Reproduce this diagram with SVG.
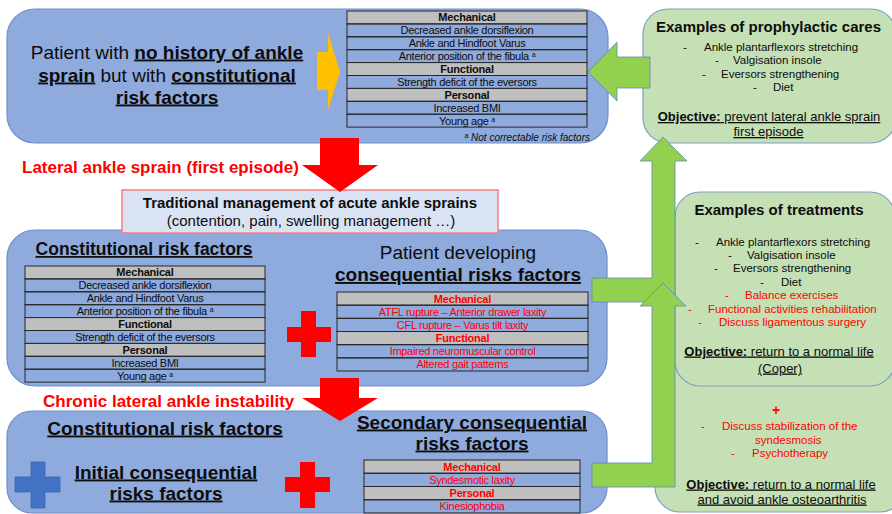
<svg xmlns="http://www.w3.org/2000/svg" width="892" height="514" viewBox="0 0 892 514">
<style>
text{font-family:"Liberation Sans",Arial,sans-serif;fill:#0d0d0d}
.box{fill:#8faadc;stroke:#6f8fcc;stroke-width:1.2}
.pan{fill:#c5e0b4;stroke:#7f9fc8;stroke-width:1.2}
.garrow{fill:#92d050;stroke:#5f88b8;stroke-width:0.8}
.rarrow{fill:#ff0000}
.hdr{fill:#bfbfbf;stroke:#262626;stroke-width:1}
.row{fill:none;stroke:#262626;stroke-width:1}
.tb{font-size:11px;letter-spacing:-0.3px;text-anchor:middle}
.tbh{font-size:11px;letter-spacing:-0.2px;text-anchor:middle;font-weight:bold}
.red{fill:#ff0000}
.b{font-weight:bold}
.u{text-decoration:underline}
.h19{font-size:19px;text-anchor:middle}
.it{font-size:11.5px}
.ph{font-size:15px;font-weight:bold;text-anchor:middle}
.obj{font-size:13px;text-anchor:middle;text-decoration:underline}
.lab{font-size:17px;font-weight:bold;fill:#ff0000}
.sup{font-size:7px;baseline-shift:super}
</style>

<!-- right panels -->
<g id="panel-treatments-chronic">
<rect class="pan" x="655" y="330" width="250" height="182" rx="25"/>
<text class="it red" x="776" y="415" style="font-size:14px;font-weight:bold;text-anchor:middle">+</text>
<text class="it red" y="430"><tspan x="701">-</tspan><tspan x="722">Discuss stabilization of the</tspan></text>
<text class="it red" x="755" y="444">syndesmosis</text>
<text class="it red" y="457"><tspan x="731">-</tspan><tspan x="752">Psychotherapy</tspan></text>
<text class="obj" x="781" y="488.5"><tspan class="b">Objective:</tspan> return to a normal life</text>
<text class="obj" x="782" y="503.5">and avoid ankle osteoarthritis</text>
</g>

<g id="panel-treatments">
<rect class="pan" x="675" y="192" width="220" height="194" rx="25"/>
<text class="ph" x="779" y="215">Examples of treatments</text>
<text class="it" y="246"><tspan x="695">-</tspan><tspan x="716">Ankle plantarflexors stretching</tspan></text>
<text class="it" y="259"><tspan x="728">-</tspan><tspan x="747">Valgisation insole</tspan></text>
<text class="it" y="272"><tspan x="714">-</tspan><tspan x="733">Eversors strengthening</tspan></text>
<text class="it" y="286"><tspan x="760">-</tspan><tspan x="781">Diet</tspan></text>
<text class="it red" y="299"><tspan x="725">-</tspan><tspan x="745">Balance exercises</tspan></text>
<text class="it red" y="313"><tspan x="688">-</tspan><tspan x="708">Functional activities rehabilitation</tspan></text>
<text class="it red" y="326"><tspan x="698">-</tspan><tspan x="719">Discuss ligamentous surgery</tspan></text>
<text class="obj" x="779" y="355.5"><tspan class="b">Objective:</tspan> return to a normal life</text>
<text class="obj" x="780" y="372.5">(Coper)</text>
</g>

<g id="panel-prophylactic">
<rect class="pan" x="643" y="9" width="253" height="134" rx="25"/>
<text class="ph" x="768.5" y="32">Examples of prophylactic cares</text>
<text class="it" y="51"><tspan x="683">-</tspan><tspan x="704">Ankle plantarflexors stretching</tspan></text>
<text class="it" y="64"><tspan x="715">-</tspan><tspan x="733">Valgisation insole</tspan></text>
<text class="it" y="78"><tspan x="702">-</tspan><tspan x="721">Eversors strengthening</tspan></text>
<text class="it" y="91"><tspan x="753">-</tspan><tspan x="773">Diet</tspan></text>
<text class="obj" x="769" y="121"><tspan class="b">Objective:</tspan> prevent lateral ankle sprain</text>
<text class="obj" x="768.5" y="136">first episode</text>
</g>

<!-- top box -->
<g id="box-no-history">
<rect class="box" x="7" y="9" width="601" height="134" rx="28"/>
<text class="h19" x="167" y="58.5">Patient with <tspan class="b u">no history of ankle</tspan></text>
<text class="h19" x="167" y="81.5"><tspan class="b u">sprain</tspan> but with <tspan class="b u">constitutional</tspan></text>
<text class="h19 b u" x="167" y="103.5">risk factors</text>
<polygon points="317,52 328,52 328,33 340,72 328,110 328,90 317,90" fill="#ffc000"/>
<rect class="hdr" x="347" y="11" width="240" height="12.9"/>
<rect class="row" x="347" y="23.9" width="240" height="12.9"/>
<rect class="row" x="347" y="36.8" width="240" height="12.9"/>
<rect class="row" x="347" y="49.7" width="240" height="12.9"/>
<rect class="hdr" x="347" y="62.6" width="240" height="12.9"/>
<rect class="row" x="347" y="75.5" width="240" height="12.9"/>
<rect class="hdr" x="347" y="88.4" width="240" height="12.9"/>
<rect class="row" x="347" y="101.3" width="240" height="12.9"/>
<rect class="row" x="347" y="114.2" width="240" height="12.9"/>
<text class="tbh" x="467" y="21.3">Mechanical</text>
<text class="tb" x="467" y="34.2">Decreased ankle dorsiflexion</text>
<text class="tb" x="467" y="47.1">Ankle and Hindfoot Varus</text>
<text class="tb" x="467" y="60">Anterior position of the fibula <tspan class="sup">a</tspan></text>
<text class="tbh" x="467" y="72.9">Functional</text>
<text class="tb" x="467" y="85.8">Strength deficit of the eversors</text>
<text class="tbh" x="467" y="98.7">Personal</text>
<text class="tb" x="467" y="111.6">Increased BMI</text>
<text class="tb" x="467" y="124.5">Young age <tspan class="sup">a</tspan></text>
<text x="590" y="140.5" style="font-size:10px;font-style:italic;text-anchor:end"><tspan class="sup" style="font-style:normal">a</tspan> Not correctable risk factors</text>
</g>

<!-- middle box -->
<g id="box-consequential">
<rect class="box" x="7" y="230" width="600" height="156" rx="28"/>
<text class="b u" x="144" y="255" style="font-size:17.5px;text-anchor:middle">Constitutional risk factors</text>
<rect class="hdr" x="25" y="266" width="240" height="12.9"/>
<rect class="row" x="25" y="278.9" width="240" height="12.9"/>
<rect class="row" x="25" y="291.8" width="240" height="12.9"/>
<rect class="row" x="25" y="304.7" width="240" height="12.9"/>
<rect class="hdr" x="25" y="317.6" width="240" height="12.9"/>
<rect class="row" x="25" y="330.5" width="240" height="12.9"/>
<rect class="hdr" x="25" y="343.4" width="240" height="12.9"/>
<rect class="row" x="25" y="356.3" width="240" height="12.9"/>
<rect class="row" x="25" y="369.2" width="240" height="12.9"/>
<text class="tbh" x="145" y="276.3">Mechanical</text>
<text class="tb" x="145" y="289.2">Decreased ankle dorsiflexion</text>
<text class="tb" x="145" y="302.1">Ankle and Hindfoot Varus</text>
<text class="tb" x="145" y="315">Anterior position of the fibula <tspan class="sup">a</tspan></text>
<text class="tbh" x="145" y="327.9">Functional</text>
<text class="tb" x="145" y="340.8">Strength deficit of the eversors</text>
<text class="tbh" x="145" y="353.7">Personal</text>
<text class="tb" x="145" y="366.6">Increased BMI</text>
<text class="tb" x="145" y="379.5">Young age <tspan class="sup">a</tspan></text>
<polygon class="rarrow" points="301,311 316,311 316,327 331,327 331,342 316,342 316,357 301,357 301,342 287,342 287,327 301,327"/>
<text class="h19" x="458" y="259">Patient developing</text>
<text class="h19 b u" x="458" y="281">consequential risks factors</text>
<rect class="hdr" x="337" y="292" width="251" height="13.17"/>
<rect class="row" x="337" y="305.17" width="251" height="13.17"/>
<rect class="row" x="337" y="318.33" width="251" height="13.17"/>
<rect class="hdr" x="337" y="331.5" width="251" height="13.17"/>
<rect class="row" x="337" y="344.67" width="251" height="13.17"/>
<rect class="row" x="337" y="357.83" width="251" height="13.17"/>
<text class="tbh red" x="462.5" y="302.5">Mechanical</text>
<text class="tb red" x="462.5" y="315.7">ATFL rupture – Anterior drawer laxity</text>
<text class="tb red" x="462.5" y="328.8">CFL rupture – Varus tilt laxity</text>
<text class="tbh red" x="462.5" y="342">Functional</text>
<text class="tb red" x="462.5" y="355.2">Impaired neuromuscular control</text>
<text class="tb red" x="462.5" y="368.3">Altered gait patterns</text>
</g>

<!-- traditional management box -->
<g id="box-traditional">
<rect x="122" y="190" width="376" height="43" fill="#dae3f3" stroke="#f08080" stroke-width="1.5"/>
<text class="b" x="310" y="208" style="font-size:15px;text-anchor:middle">Traditional management of acute ankle sprains</text>
<text x="311" y="226" style="font-size:15px;text-anchor:middle">(contention, pain, swelling management …)</text>
</g>

<!-- bottom box -->
<g id="box-chronic">
<rect class="box" x="7" y="411" width="600" height="102" rx="25"/>
<text class="h19 b u" x="165" y="434.5">Constitutional risk factors</text>
<polygon points="31,462 45,462 45,477 60,477 60,492 45,492 45,508 31,508 31,492 15,492 15,477 31,477" fill="#4472c4" stroke="#3a64b0" stroke-width="0.8"/>
<text class="h19 b u" x="166" y="478.5">Initial consequential</text>
<text class="h19 b u" x="166" y="499.5">risks factors</text>
<polygon class="rarrow" points="300,462 315,462 315,477 330,477 330,492 315,492 315,508 300,508 300,492 285,492 285,477 300,477"/>
<text class="h19 b u" x="472" y="428.5">Secondary consequential</text>
<text class="h19 b u" x="472" y="449.5">risks factors</text>
<rect class="hdr" x="364" y="460" width="216" height="13.25"/>
<rect class="row" x="364" y="473.25" width="216" height="13.25"/>
<rect class="hdr" x="364" y="486.5" width="216" height="13.25"/>
<rect class="row" x="364" y="499.75" width="216" height="13.25"/>
<text class="tbh red" x="472" y="470.6">Mechanical</text>
<text class="tb red" x="472" y="483.9">Syndesmotic laxity</text>
<text class="tbh red" x="472" y="497.1">Personal</text>
<text class="tb red" x="472" y="510.3">Kinesiophobia</text>
</g>

<!-- connectors -->
<g id="connectors">
<polygon class="rarrow" points="320,138 359,138 359,165 378,165 340,192 302,165 320,165"/>
<text class="lab" x="22" y="173">Lateral ankle sprain (first episode)</text>
<polygon class="rarrow" points="320,378 359,378 359,398 378,398 340,421 302,398 320,398"/>
<text class="lab" x="43" y="407">Chronic lateral ankle instability</text>
<polygon class="garrow" points="588,72 617,42 617,57 650,57 650,88 617,88 617,101"/>
<polygon class="garrow" points="592,278 652,278 652,161 640,161 663,137 687,161 675,161 675,302 592,302"/>
<polygon class="garrow" points="592,463 652,463 652,306 640,306 663,283 686,306 675,306 675,487 592,487"/>
</g>
</svg>
